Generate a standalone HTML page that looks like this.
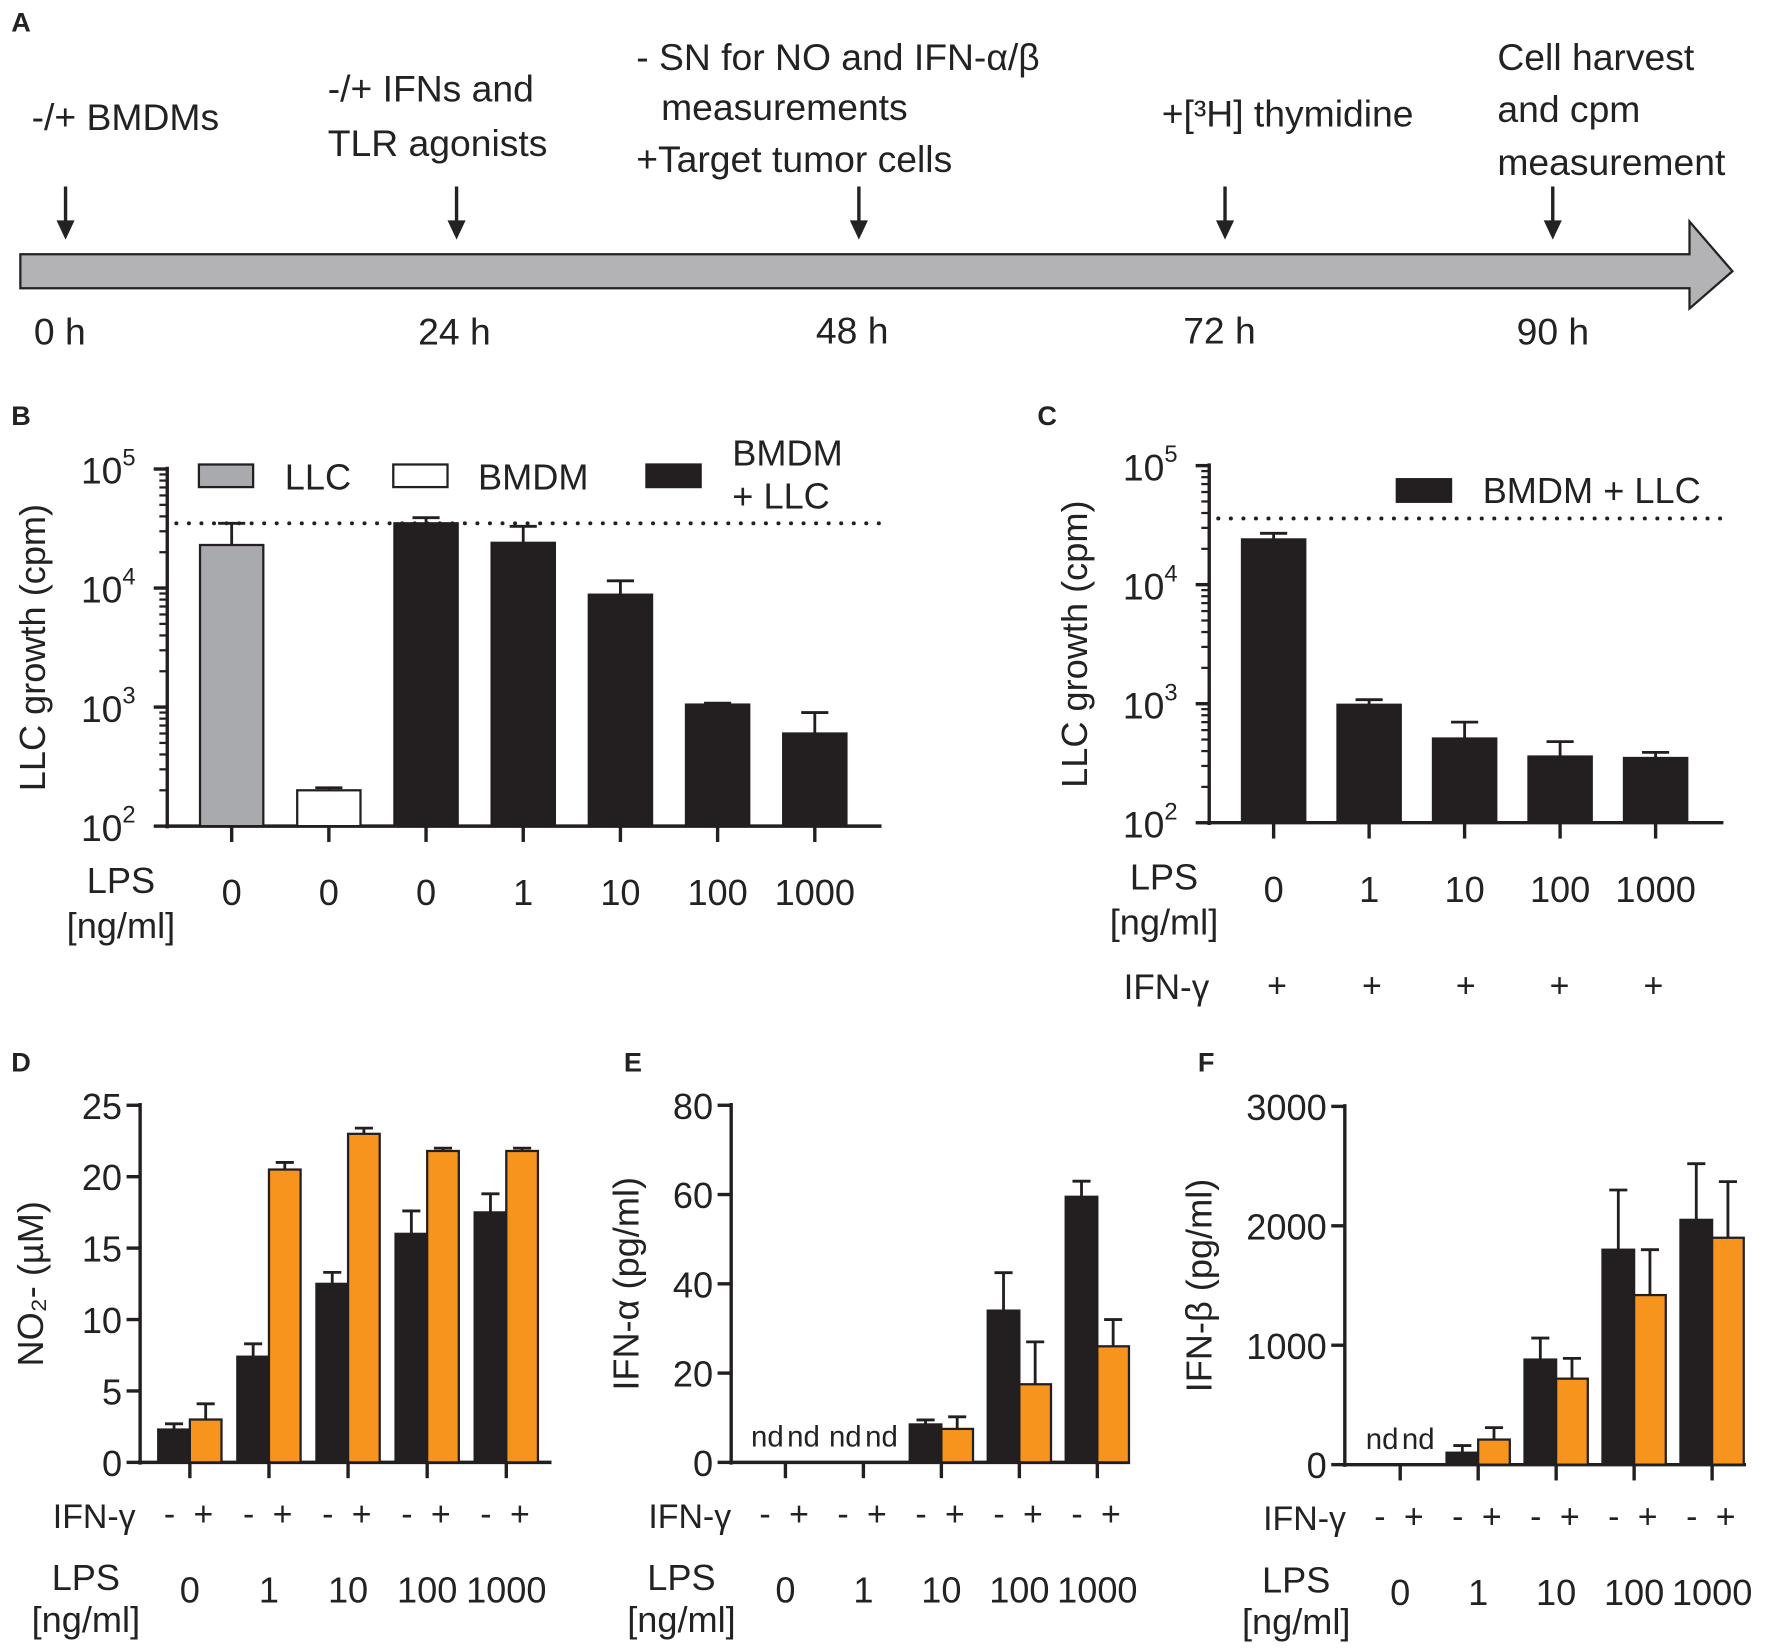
<!DOCTYPE html>
<html><head><meta charset="utf-8"><style>
html,body{margin:0;padding:0;background:#fff}
svg{display:block;font-family:"Liberation Sans",Arial,sans-serif}
</style></head><body>
<svg id="fig" width="1772" height="1650" viewBox="0 0 1568 1460" xmlns="http://www.w3.org/2000/svg">
<g font-size="33" fill="#222">
<text x="10" y="28" font-weight="bold" font-size="24">A</text>
<polygon points="18,225 1495,225 1495,196 1533,240 1495,273 1495,255 18,255" fill="#b3b3b6" stroke="#222" stroke-width="2"/>
<text x="28" y="115">-/+ BMDMs</text>
<text x="290" y="90">-/+ IFNs and</text><text x="290" y="138">TLR agonists</text>
<text x="563" y="62">- SN for NO and IFN-α/β</text><text x="585" y="106">measurements</text><text x="563" y="152">+Target tumor cells</text>
<text x="1028" y="112">+[³H] thymidine</text>
<text x="1325" y="62">Cell harvest</text><text x="1325" y="108">and cpm</text><text x="1325" y="155">measurement</text>
<text x="30" y="305">0 h</text><text x="370" y="305">24 h</text><text x="722" y="304">48 h</text><text x="1047" y="304">72 h</text><text x="1342" y="305">90 h</text>
</g>
<g id="arrows"></g>
<g id="charts"></g>
</svg>
<script>
const NS="http://www.w3.org/2000/svg";
const charts=document.getElementById('charts');
function el(tag,attrs,parent,text){const e=document.createElementNS(NS,tag);for(const k in attrs)e.setAttribute(k,attrs[k]);if(text!==undefined)e.textContent=text;(parent||charts).appendChild(e);return e;}

const arrowX=[58,404,760,1084,1374];
const ag=document.getElementById('arrows');
arrowX.forEach(x=>{const g=el('g',{},ag);


el('line',{x1:x,y1:165,x2:x,y2:200,stroke:'#222','stroke-width':3},g);
el('polygon',{points:`${x-8},195 ${x+8},195 ${x},212`,fill:'#222'},g);});

// Panel B data
const bCats=['0','0','0','1','10','100','1000'];
const bVals=[23000,200,35000,24000,8800,1050,600];
const bErr=[35000,210,39000,33000,11500,1080,900];
const bFill=['#a9aaae','#fff','#231f20','#231f20','#231f20','#231f20','#231f20'];
// Panel C data
const cCats=['0','1','10','100','1000'];
const cVals=[24000,980,510,360,350];
const cErr=[27000,1080,700,480,390];
// Panel D data
const dCats=['0','1','10','100','1000'];
const dBlack=[2.3,7.4,12.5,16,17.5];
const dBlackErr=[2.7,8.3,13.3,17.6,18.8];
const dOrange=[3,20.5,23,21.8,21.8];
const dOrangeErr=[4.1,21,23.4,22,22];
const dTicks=[0,5,10,15,20,25];
// Panel E data
const eCats=['0','1','10','100','1000'];
const eBlack=[0,0,8.5,34,59.5];
const eBlackErr=[0,0,9.5,42.5,63];
const eOrange=[0,0,7.5,17.5,26];
const eOrangeErr=[0,0,10.2,27,32];
const eTicks=[0,20,40,60,80];
// Panel F data
const fCats=['0','1','10','100','1000'];
const fBlack=[0,100,880,1800,2050];
const fBlackErr=[0,160,1060,2300,2520];
const fOrange=[0,210,720,1420,1900];
const fOrangeErr=[0,310,890,1800,2370];
const fTicks=[0,1000,2000,3000];

function bar(x,w,y0,y1,fill,name){const r=el('rect',{x:x-w/2,y:Math.min(y0,y1),width:w,height:Math.abs(y0-y1),fill:fill,stroke:'#231f20','stroke-width':2});

}
function err(x,yv,ye,w){if(ye>=yv-0.5)return;el('line',{x1:x,y1:yv,x2:x,y2:ye,stroke:'#231f20','stroke-width':2.5});el('line',{x1:x-w,y1:ye,x2:x+w,y2:ye,stroke:'#231f20','stroke-width':2.5});}

function logPanel(opt){
 const ly=v=>opt.y0-(Math.log10(v)-2)*(opt.y0-opt.yTop)/3;
 const ax=opt.ax;
 el('line',{x1:ax,y1:opt.yTop-2,x2:ax,y2:opt.y0+2,stroke:'#231f20','stroke-width':3});
 el('line',{x1:ax-2,y1:opt.y0,x2:opt.xEnd,y2:opt.y0,stroke:'#231f20','stroke-width':3});
 for(let d=2;d<=5;d++){const y=ly(Math.pow(10,d));el('line',{x1:ax-12,y1:y,x2:ax,y2:y,stroke:'#231f20','stroke-width':3});
  const t=el('text',{x:ax-28,y:y+13,'text-anchor':'end','font-size':33,fill:'#222'},undefined,'10');el('tspan',{dy:-16,'font-size':21},t,String(d));
  if(d<5)for(let m=2;m<10;m++){const yy=ly(m*Math.pow(10,d));el('line',{x1:ax-7,y1:yy,x2:ax,y2:yy,stroke:'#231f20','stroke-width':2});}}
 opt.vals.forEach((v,i)=>{const x=opt.x0+i*opt.dx;
  err(x,ly(v),ly(opt.errs[i]),12);
  bar(x,56,opt.y0,ly(v),opt.fills[i],'bar-lps-'+opt.cats[i]);
  el('line',{x1:x,y1:opt.y0,x2:x,y2:opt.y0+14,stroke:'#231f20','stroke-width':3});
  el('text',{x:x,y:opt.y0+70,'text-anchor':'middle','font-size':32,fill:'#222'},undefined,opt.cats[i]);});
 el('line',{x1:opt.ax+8,y1:ly(opt.dot),x2:opt.xEnd,y2:ly(opt.dot),stroke:'#231f20','stroke-width':3.5,'stroke-dasharray':'0.1 11','stroke-linecap':'round'});
 el('text',{transform:`translate(${ax-108},${(opt.y0+opt.yTop)/2}) rotate(-90)`,'text-anchor':'middle','font-size':32,fill:'#222'},undefined,'LLC growth (cpm)');
}
logPanel({ax:148,yTop:415,y0:731,xEnd:780,x0:205,dx:86,vals:bVals,errs:bErr,fills:bFill,cats:bCats,dot:35000});
logPanel({ax:1070,yTop:412,y0:728,xEnd:1525,x0:1127,dx:84.5,vals:cVals,errs:cErr,fills:cVals.map(()=>'#231f20'),cats:cCats,dot:36000});

function linPanel(opt){
 const max=opt.ticks[opt.ticks.length-1];
 const ly=v=>opt.y0-v/max*(opt.y0-opt.yTop);
 const ax=opt.ax;
 el('line',{x1:ax,y1:opt.yTop-2,x2:ax,y2:opt.y0+2,stroke:'#231f20','stroke-width':3});
 el('line',{x1:ax-2,y1:opt.y0,x2:opt.xEnd,y2:opt.y0,stroke:'#231f20','stroke-width':3});
 opt.ticks.forEach(t=>{const y=ly(t);el('line',{x1:ax-12,y1:y,x2:ax,y2:y,stroke:'#231f20','stroke-width':3});
  el('text',{x:ax-16,y:y+12,'text-anchor':'end','font-size':32,fill:'#222'},undefined,String(t));});
 opt.cats.forEach((c,i)=>{const x=opt.x0+i*opt.dx;
  if(opt.black[i]>0){err(x-14,ly(opt.black[i]),ly(opt.bErr[i]),8);bar(x-14,28,opt.y0,ly(opt.black[i]),'#231f20','bar-black-lps-'+c);}
  if(opt.orange[i]>0){err(x+14,ly(opt.orange[i]),ly(opt.oErr[i]),8);bar(x+14,28,opt.y0,ly(opt.orange[i]),'#f7941d','bar-orange-lps-'+c);}
  if(opt.nd&&opt.nd[i]){el('text',{x:x-16,y:opt.y0-14,'text-anchor':'middle','font-size':26,fill:'#222'},undefined,'nd');el('text',{x:x+16,y:opt.y0-14,'text-anchor':'middle','font-size':26,fill:'#222'},undefined,'nd');}
  el('text',{x:x-18,y:opt.y0+56,'text-anchor':'middle','font-size':30,fill:'#222'},undefined,'-');
  el('text',{x:x+12,y:opt.y0+56,'text-anchor':'middle','font-size':30,fill:'#222'},undefined,'+');
  el('line',{x1:x,y1:opt.y0,x2:x,y2:opt.y0+14,stroke:'#231f20','stroke-width':3});
  el('text',{x:x,y:opt.y0+124,'text-anchor':'middle','font-size':32,fill:'#222'},undefined,c);});
 el('text',{x:opt.x0-48,y:opt.y0+58,'text-anchor':'end','font-size':30,fill:'#222'},undefined,'IFN-γ');
 el('text',{x:opt.x0-92,y:opt.y0+113,'text-anchor':'middle','font-size':32,fill:'#222'},undefined,'LPS');
 el('text',{x:opt.x0-92,y:opt.y0+150,'text-anchor':'middle','font-size':32,fill:'#222'},undefined,'[ng/ml]');
 el('text',{transform:`translate(${ax-opt.labOff},${(opt.y0+opt.yTop)/2}) rotate(-90)`,'text-anchor':'middle','font-size':32,fill:'#222'},undefined,opt.ylab);
}
linPanel({ax:124,yTop:978,y0:1294,xEnd:488,x0:168,dx:70,ticks:dTicks,cats:dCats,black:dBlack,bErr:dBlackErr,orange:dOrange,oErr:dOrangeErr,ylab:'NO₂- (µM)',labOff:86});
linPanel({ax:647,yTop:978,y0:1294,xEnd:1000,x0:695,dx:69,ticks:eTicks,cats:eCats,black:eBlack,bErr:eBlackErr,orange:eOrange,oErr:eOrangeErr,nd:[1,1,0,0,0],ylab:'IFN-α (pg/ml)',labOff:82});
linPanel({ax:1190,yTop:979,y0:1296,xEnd:1545,x0:1239,dx:69,ticks:fTicks,cats:fCats,black:fBlack,bErr:fBlackErr,orange:fOrange,oErr:fOrangeErr,nd:[1,0,0,0,0],ylab:'IFN-β (pg/ml)',labOff:118});
</script>
<script>
const s=document.getElementById('fig');
function t(x,y,txt,sz,bold,anchor,name){const e=document.createElementNS(NS,'text');e.setAttribute('x',x);e.setAttribute('y',y);e.setAttribute('font-size',sz);e.setAttribute('fill','#222');if(bold)e.setAttribute('font-weight','bold');if(anchor)e.setAttribute('text-anchor',anchor);e.textContent=txt;


s.appendChild(e);}
t(10,376,'B',24,1,null,'panel-b-label');t(918,376,'C',24,1,null,'panel-c-label');
t(10,948,'D',24,1,null,'panel-d-label');t(552,948,'E',24,1,null,'panel-e-label');t(1060,948,'F',24,1,null,'panel-f-label');
t(107,790,'LPS',32,0,'middle','lps-label-b');t(107,830,'[ng/ml]',32,0,'middle','lps-unit-b');
t(1030,787,'LPS',32,0,'middle','lps-label-c');t(1030,827,'[ng/ml]',32,0,'middle','lps-unit-c');
t(1070,884,'IFN-γ',31,0,'end','ifn-label-c');
[1130,1214,1297,1380,1463].forEach((x,i)=>t(x,882,'+',30,0,'middle','ifn-plus-'+i));
t(252,433,'LLC',32,0,null,'legend-llc');t(423,433,'BMDM',32,0,null,'legend-bmdm');t(648,412,'BMDM',32,0,null,'legend-bmdm-llc');t(648,450,'+ LLC',32,0,null,'legend-bmdm-llc-2');
t(1312,445,'BMDM + LLC',32,0,null,'legend-c');
function r(x,y,w,h,f,name){const e=document.createElementNS(NS,'rect');e.setAttribute('x',x);e.setAttribute('y',y);e.setAttribute('width',w);e.setAttribute('height',h);e.setAttribute('fill',f);e.setAttribute('stroke','#231f20');e.setAttribute('stroke-width',2);


s.appendChild(e);}
r(176,411,48,20,'#a9aaae','legend-swatch-llc');r(348,411,48,20,'#fff','legend-swatch-bmdm');r(572,411,48,20,'#231f20','legend-swatch-bmdm-llc');r(1236,424,48,20,'#231f20','legend-swatch-c');
</script>
</body></html>
